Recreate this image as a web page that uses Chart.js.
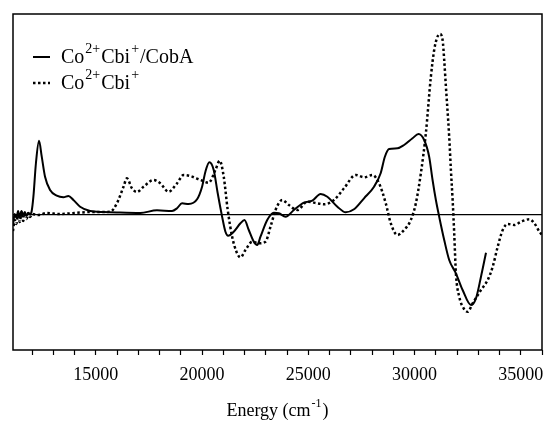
<!DOCTYPE html>
<html>
<head>
<meta charset="utf-8">
<script src="https://cdn.jsdelivr.net/npm/chart.js@4/dist/chart.umd.min.js"></script>
<style>
  html, body { margin: 0; padding: 0; background: #fff; }
  #wrap { width: 544px; height: 422px; }
</style>
</head>
<body>
<div id="wrap"><canvas id="cdChart" width="544" height="422"></canvas></div>
<script>
// Co2+Cbi+/CobA spectrum (solid)
const cobaEnergy = [11100, 11180, 11260, 11340, 11420, 11500, 11580, 11660, 11740, 11820, 11900, 11980,
  12060, 12180, 12325, 12453, 12608, 12844, 13160, 13472, 13708, 13943, 14259, 14731, 15358, 15991,
  17090, 17877, 18585, 18821, 19057, 19368, 19764, 20000, 20156, 20344, 20547, 20736, 20943, 21099,
  21226, 21491, 21807, 21995, 22198, 22434, 22594, 22750, 23066, 23377, 23613, 23929, 24321, 24793,
  25189, 25580, 25896, 26368, 26760, 27151, 27623, 28094, 28410, 28600, 28802, 29198, 29509, 29906,
  30189, 30453, 30689, 30849, 31005, 31161, 31397, 31632, 31948, 32264, 32656, 32892, 33128, 33364];
const cobaSignal = [-10, 1, -3, 4, -2, 4, 0, 3, -1, 2, 1, 4,
  18.3, 52, 74.3, 58.3, 38.3, 25, 19.3, 17.7, 19, 15, 8.3, 4, 3, 2.5,
  2, 4.7, 4, 6.7, 11.7, 11, 15.7, 28.3, 43.3, 52.7, 45, 21.7, -1.7, -16.7,
  -20.7, -16.7, -8.3, -5, -15, -26.7, -30, -21.7, -5, 2.3, 1.7, -1.7, 5, 12.3,
  14.3, 21, 18.3, 8.3, 2.7, 5.7, 16.7, 28.3, 42, 58, 66, 66.7, 70, 76.7,
  81, 75, 58.3, 35, 15, -1.7, -25, -45, -58.3, -75, -90, -83.3, -61.7, -37.7];

// Co2+Cbi+ spectrum (dotted)
const cbiEnergy = [11100, 11180, 11260, 11340, 11420, 11500, 11580, 11660, 11740, 11820, 11900, 12000,
  12300, 12700, 13300, 14000, 14731, 15300, 15675, 15991, 16302, 16462, 16698, 16934, 17245, 17717,
  18033, 18425, 18821, 19132, 19448, 19920, 20311, 20627, 20830, 21019, 21207, 21415, 21618, 21807,
  22043, 22359, 22670, 22986, 23222, 23458, 23774, 24085, 24481, 24953, 25425, 25736, 26208, 26679,
  27231, 27623, 28019, 28330, 28646, 28882, 29198, 29509, 29826, 30062, 30298, 30533, 30769, 30925,
  31052, 31194, 31321, 31397, 31477, 31632, 31712, 31793, 31868, 31948, 32104, 32312, 32500, 32736,
  33128, 33444, 33680, 33915, 34151, 34387, 34698, 35014, 35406, 35642, 35878, 36000];
const cbiSignal = [-16, -5, -9, 0, -7, 3, -6, -1, -4, 2, -2, 1,
  0, 2, 1, 2, 3, 3, 3.3, 11.7, 28.3, 36.7, 26.7, 23, 28.3, 35,
  31.7, 23.3, 31.7, 40, 39, 35, 32.3, 45, 54.3, 38.3, 5, -21.7, -36.7, -42.3,
  -35, -26.7, -28.3, -26.7, -11.7, 5, 15, 10, 5, 13.3, 11.7, 10.7, 15, 26.7,
  40, 37.7, 40, 31.7, 11.7, -8.3, -20, -15, -5, 11.7, 41.7, 81.7, 138.3, 165,
  176.7, 181, 175, 155, 128.3, 78.3, 45, 15, -18.3, -58.3, -81.7, -93.3, -96.7, -88.3,
  -75, -65, -51.7, -31.7, -15, -9, -10, -6.7, -4.3, -8.3, -16.7, -20];

const xTickLabels = [15000, 20000, 25000, 30000, 35000];
const xMin = 11100, xMax = 36000;
const yMin = -135, yMax = 201;

const serif = "'Liberation Serif', 'Times New Roman', serif";

function toPoints(xs, ys) {
  return xs.map((x, i) => ({ x: x, y: ys[i] }));
}

// draws text with superscript pieces: parts = [[text, isSup], ...]
function drawRich(ctx, parts, x, y, size) {
  let cx = x;
  parts.forEach(([txt, sup]) => {
    const fs = sup ? Math.round(size * 0.68) : size;
    ctx.font = fs + 'px ' + serif;
    if (sup) cx += 1;
    ctx.fillText(txt, cx, sup ? y - size * 0.5 : y);
    cx += ctx.measureText(txt).width + (sup ? 1 : 0);
  });
  return cx - x;
}

function richWidth(ctx, parts, size) {
  let w = 0;
  parts.forEach(([txt, sup]) => {
    ctx.font = (sup ? Math.round(size * 0.68) : size) + 'px ' + serif;
    w += ctx.measureText(txt).width + (sup ? 2 : 0);
  });
  return w;
}

const legendItems = [
  { parts: [['Co', false], ['2+', true], ['Cbi', false], ['+', true], ['/CobA', false]], dash: [], width: 2 },
  { parts: [['Co', false], ['2+', true], ['Cbi', false], ['+', true]], dash: [2.5, 2.5], width: 2.5 }
];

const decorations = {
  id: 'decorations',
  afterDraw(chart) {
    const ctx = chart.ctx;
    const a = chart.chartArea;
    ctx.save();
    // frame
    ctx.strokeStyle = '#000';
    ctx.lineWidth = 1.5;
    ctx.strokeRect(a.left, a.top, a.right - a.left, a.bottom - a.top);

    // legend
    ctx.fillStyle = '#000';
    ctx.textBaseline = 'alphabetic';
    legendItems.forEach((it, i) => {
      const cy = 57 + i * 26;
      ctx.beginPath();
      ctx.setLineDash(it.dash);
      ctx.lineWidth = it.width;
      ctx.moveTo(33, cy);
      ctx.lineTo(50, cy);
      ctx.stroke();
      ctx.setLineDash([]);
      drawRich(ctx, it.parts, 61, cy + 6, 20);
    });

    // axis title
    const title = [['Energy (cm', false], ['-1', true], [')', false]];
    const w = richWidth(ctx, title, 18);
    drawRich(ctx, title, (a.left + a.right) / 2 - w / 2, 416, 18);
    ctx.restore();
  }
};

new Chart(document.getElementById('cdChart').getContext('2d'), {
  type: 'line',
  data: {
    datasets: [
      {
        label: 'Co2+Cbi+/CobA',
        data: toPoints(cobaEnergy, cobaSignal),
        borderColor: '#000',
        borderWidth: 2,
        pointRadius: 0,
        cubicInterpolationMode: 'monotone',
        fill: false
      },
      {
        label: 'Co2+Cbi+',
        data: toPoints(cbiEnergy, cbiSignal),
        borderColor: '#000',
        borderWidth: 2.5,
        borderDash: [2.5, 2.5],
        borderCapStyle: 'butt',
        pointRadius: 0,
        cubicInterpolationMode: 'monotone',
        fill: false
      }
    ]
  },
  options: {
    responsive: false,
    animation: false,
    layout: { padding: { left: 13, top: 14, right: 2, bottom: 0 } },
    plugins: { legend: { display: false }, tooltip: { enabled: false } },
    scales: {
      x: {
        type: 'linear',
        min: xMin,
        max: xMax,
        afterBuildTicks(scale) {
          const t = [];
          for (let v = 12000; v <= 36000; v += 1000) t.push({ value: v });
          scale.ticks = t;
        },
        afterFit(scale) {
          // fixed band under the plot for tick labels and the axis title
          scale.height = 72;
          scale.paddingLeft = 0;
          scale.paddingRight = 0;
        },
        border: { display: false },
        grid: { drawOnChartArea: false, drawTicks: true, tickLength: 5, tickColor: '#000', tickWidth: 1.2 },
        ticks: {
          autoSkip: false,
          maxRotation: 0,
          padding: 9,
          color: '#000',
          font: { family: serif, size: 18 },
          callback: (v) => xTickLabels.includes(v) ? String(v) : ''
        }
      },
      y: {
        min: yMin,
        max: yMax,
        afterBuildTicks(scale) { scale.ticks = [{ value: 0 }]; },
        afterFit(scale) { scale.width = 0; },
        border: { display: false },
        grid: { drawTicks: false, color: '#000', lineWidth: 1.2 },
        ticks: { display: false }
      }
    }
  },
  plugins: [decorations]
});
</script>
</body>
</html>
